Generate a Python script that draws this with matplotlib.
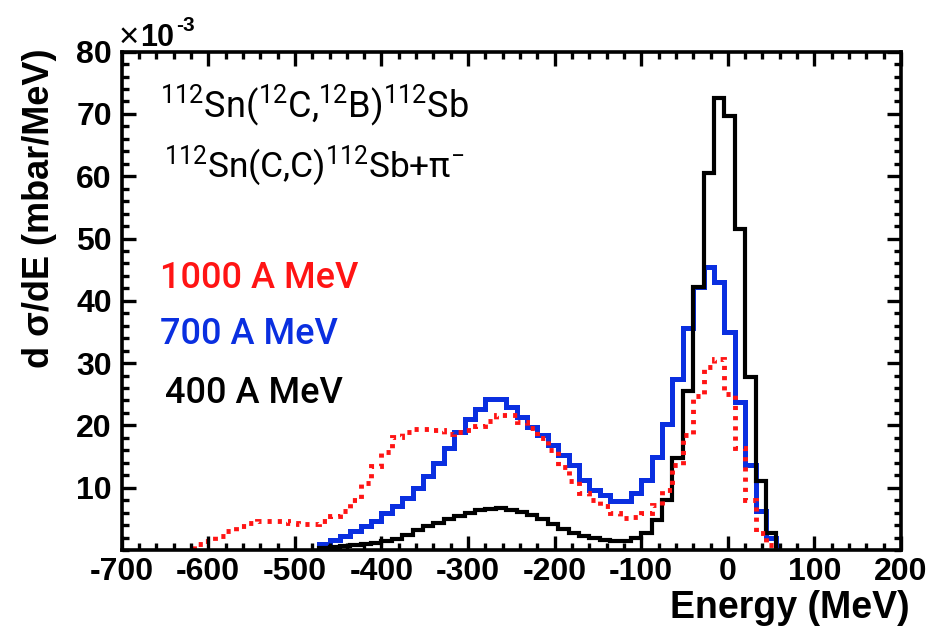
import numpy as np
import matplotlib
matplotlib.use("Agg")
import matplotlib.pyplot as plt
from matplotlib.ticker import MultipleLocator

# histogram binning (MeV) and contents in units of 1e-3 mbar/MeV
E_LO, E_HI, BIN = -700, 200, 12
edges = np.arange(E_LO, E_HI + 1, BIN)

xs_400 = [0] * 19 + [
    0.3, 0.5, 0.6, 0.8, 1.0, 1.1, 1.4, 1.7, 2.4, 3.2, 3.8, 4.4, 4.9, 5.5, 6.0,
    6.4, 6.6, 6.7, 6.5, 6.1, 5.6, 4.9, 4.1, 3.4, 2.7, 2.2, 1.9, 1.6, 1.4, 1.5,
    1.9, 2.7, 4.8, 8.0, 14.8, 25.6, 42.2, 60.6, 72.6, 69.6, 51.5, 27.8, 11.0, 2.7,
] + [0] * 12

xs_700 = [0] * 19 + [
    1.0, 1.6, 2.2, 3.0, 3.8, 4.7, 5.9, 7.0, 8.3, 9.9, 11.8, 13.9, 16.3, 19.0, 21.1,
    22.7, 24.2, 24.2, 23.0, 21.4, 19.8, 18.4, 16.8, 15.2, 13.6, 11.2, 9.6, 8.8, 7.9, 7.9,
    9.1, 11.2, 15.0, 20.3, 27.5, 35.6, 42.2, 45.4, 43.0, 35.0, 23.8, 13.6, 6.2, 1.9,
] + [0] * 12

xs_1000 = [0] * 7 + [
    0.9, 1.4, 2.2, 3.0, 3.8, 4.3, 4.6, 4.7, 4.6, 4.4, 4.2, 4.2, 4.7, 5.4, 6.2,
    8.0, 10.8, 13.5, 15.8, 18.2, 19.0, 19.5, 19.5, 19.3, 18.7, 19.0, 19.2, 19.9, 20.7, 21.6,
    21.6, 20.6, 19.6, 18.0, 16.0, 13.4, 11.0, 9.2, 8.0, 7.0, 5.9, 5.2, 5.3, 5.9, 7.3,
    9.6, 13.6, 18.4, 24.8, 29.4, 30.6, 25.1, 16.3, 8.0, 2.7, 0.85,
] + [0] * 12

x_ticks = list(range(-700, 201, 100))
y_ticks = list(range(10, 81, 10))

RED = "#ff1414"
BLUE = "#0a2fe0"
AX_FONT = "Liberation Sans"
NOTE_FONT = "Roboto"

plt.rcParams["mathtext.fontset"] = "custom"
plt.rcParams["mathtext.rm"] = NOTE_FONT
plt.rcParams["mathtext.it"] = NOTE_FONT


def draw_hist(ax, vals, **kw):
    # only draw the filled span, no line along zero outside it
    vals = np.asarray(vals, dtype=float)
    nz = np.nonzero(vals)[0]
    a, b = nz[0], nz[-1] + 1
    ax.stairs(vals[a:b], edges[a:b + 1], baseline=0, **kw)


fig = plt.figure(figsize=(9.31, 6.30), dpi=100)
ax = fig.add_axes([0.1307, 0.127, 0.8371, 0.791])

draw_hist(ax, xs_700, color=BLUE, linewidth=3.6)
draw_hist(ax, xs_400, color="black", linewidth=3.0)
draw_hist(ax, xs_1000, color=RED, linewidth=3.5, linestyle=(0, (0.85, 1.25)))

ax.set_xlim(E_LO, E_HI)
ax.set_ylim(0, 80)

for s in ax.spines.values():
    s.set_linewidth(2.6)

ax.set_xticks(x_ticks)
ax.set_xticklabels([str(t) for t in x_ticks])
ax.set_yticks(y_ticks)
ax.set_yticklabels([str(t) for t in y_ticks])
ax.xaxis.set_minor_locator(MultipleLocator(20))
ax.yaxis.set_minor_locator(MultipleLocator(2))
ax.tick_params(which="both", direction="in", top=True, right=True, width=2.4)
ax.tick_params(which="major", length=10)
ax.tick_params(which="minor", length=5)
ax.tick_params(axis="x", which="major", pad=5)
ax.tick_params(axis="y", which="major", pad=7)
for lab in ax.get_xticklabels() + ax.get_yticklabels():
    lab.set_fontfamily(AX_FONT)
    lab.set_fontweight("bold")
    lab.set_fontsize(23)

W, H = 931, 630
def px(x, y):
    return x / W, 1 - y / H

fig.text(*px(40, 48), "d σ/dE (mbar/MeV)", rotation=90, ha="center", va="top",
         family=AX_FONT, fontweight="bold", fontsize=26)
fig.text(*px(910, 618), "Energy (MeV)", ha="right", va="baseline",
         family=AX_FONT, fontweight="bold", fontsize=27)
fig.text(*px(119, 47), "×", ha="left", va="baseline",
         family=AX_FONT, fontsize=25)
fig.text(*px(140, 46), "10", ha="left", va="baseline",
         family=AX_FONT, fontweight="bold", fontsize=22)
fig.text(*px(176, 31), "-3", ha="left", va="baseline",
         family=AX_FONT, fontweight="bold", fontsize=15)

fig.text(*px(160, 117), r"$^{112}$Sn($^{12}$C,$^{12}$B)$^{112}$Sb",
         family=NOTE_FONT, fontsize=26, ha="left", va="baseline")
fig.text(*px(164, 177), r"$^{112}$Sn(C,C)$^{112}$Sb+π$^{-}$",
         family=NOTE_FONT, fontsize=25.5, ha="left", va="baseline")
fig.text(*px(160, 288), "1000 A MeV", color=RED, family=NOTE_FONT,
         fontweight="medium", fontsize=26, ha="left", va="baseline")
fig.text(*px(160, 344), "700 A MeV", color=BLUE, family=NOTE_FONT,
         fontweight="medium", fontsize=26, ha="left", va="baseline")
fig.text(*px(165, 403), "400 A MeV", color="black", family=NOTE_FONT,
         fontweight="medium", fontsize=26, ha="left", va="baseline")

fig.savefig("out.png", dpi=100)
